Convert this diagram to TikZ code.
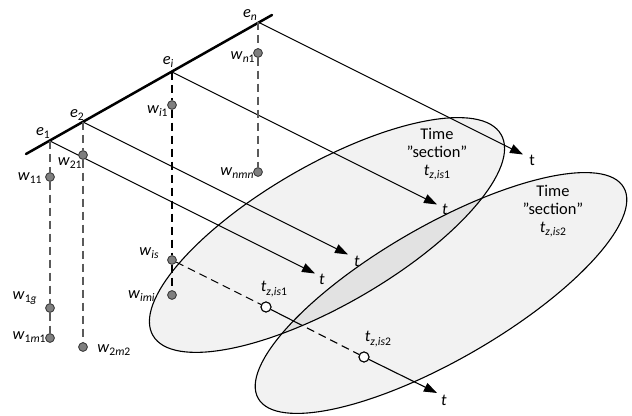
\documentclass[tikz,border=0pt]{standalone}
\usepackage{fontspec}
\setmainfont{Carlito}
\usetikzlibrary{arrows.meta,calc}
\definecolor{secgray}{HTML}{F2F2F2}
\definecolor{lensgray}{HTML}{E2E2E2}
\definecolor{dotgray}{HTML}{7F7F7F}
\definecolor{dotedge}{HTML}{404040}
\definecolor{dashgray}{HTML}{5A5A5A}
\newcommand\subt[1]{\raisebox{-0.45ex}{\fontsize{5.8}{6}\selectfont #1}}
\newcommand\vw[1]{\textit{w}\subt{#1}}
\newcommand\ve[1]{\textit{e}\subt{#1}}
\newcommand\vt[1]{\textit{t}\subt{#1}}
\begin{document}
\begin{tikzpicture}[x=0.5pt,y=-0.5pt,font=\fontsize{8.2}{9}\selectfont,
  mainline/.style={line width=1.25pt,line cap=round},
  axis/.style={line width=0.55pt,-{Triangle[length=6.5pt,width=4.6pt]}},
  thinline/.style={line width=0.55pt},
  vdash/.style={line width=0.55pt,dash pattern=on 4pt off 2.5pt},
  wdot/.style={circle,fill=dotgray,draw=dotedge,line width=0.4pt,inner sep=0pt,minimum size=4.3pt},
  tdot/.style={circle,fill=white,draw=black,line width=0.5pt,inner sep=0pt,minimum size=5pt},
  lbl/.style={inner sep=0pt},
  sect/.style={fill=secgray},
  secline/.style={draw=black,line width=0.55pt}]
\useasboundingbox (0,0) rectangle (632,416);

% time sections
\fill[sect,rotate around={30:(327,235)}] (327,235) ellipse [x radius=201,y radius=70];
\fill[sect,rotate around={30:(441,293)}] (441,293) ellipse [x radius=211,y radius=67];
\begin{scope}
  \clip[rotate around={30:(327,235)}] (327,235) ellipse [x radius=201,y radius=70];
  \fill[lensgray,rotate around={30:(441,293)}] (441,293) ellipse [x radius=211,y radius=67];
\end{scope}
\draw[secline,rotate around={30:(327,235)}] (327,235) ellipse [x radius=201,y radius=70];
\draw[secline,rotate around={30:(441,293)}] (441,293) ellipse [x radius=211,y radius=67];
\node[lbl,align=center] (sec1) at (437,154) {Time\\”section”\\\vt{\textit{z,is}1}};
\node[lbl,align=center] (sec2) at (553,211) {Time\\”section”\\\vt{\textit{z,is}2}};

% element line
\coordinate (L0) at (26,154);
\coordinate (L1) at (272,15);
\coordinate (e1) at (50,141);
\coordinate (e2) at (83,122);
\coordinate (ei) at (172,72);
\coordinate (en) at (258,22);
\draw[mainline] (L0) -- (L1);

% time axes
\coordinate (t1) at ($(e1)+(265,132.5)$);
\coordinate (t2) at ($(e2)+(265,132.5)$);
\coordinate (ti) at ($(ei)+(265,132.5)$);
\coordinate (tn) at ($(en)+(265,132.5)$);
\draw[axis] (e1) -- (t1);
\draw[axis] (e2) -- (t2);
\draw[axis] (ei) -- (ti);
\draw[axis] (en) -- (tn);

% dots (positions)
\node[wdot] (w11) at (50,177) {};
\node[wdot] (w1g) at (50,308) {};
\node[wdot] (w1m1) at (50,338) {};
\node[wdot] (w21) at (83,155) {};
\node[wdot] (w2m2) at (83,347) {};
\node[wdot] (wi1) at (172,105) {};
\node[wdot] (wis) at (172,260) {};
\node[wdot] (wimi) at (172,295) {};
\node[wdot] (wn1) at (258,53) {};
\node[wdot] (wnmn) at (258,172) {};

% vertical dashed lines
\draw[vdash,dashgray] (e1) -- (w11) -- (w1g) -- (w1m1);
\draw[vdash,dashgray] (e2) -- (w21) -- (w2m2);
\draw[vdash,black] (ei) -- (wi1) -- (wis) -- (wimi);
\draw[vdash,dashgray] (en) -- (wn1) -- (wnmn);

% w_is time line
\node[tdot] (tz1) at (266,307) {};
\node[tdot] (tz2) at (364,357) {};
\coordinate (tis) at ($(wis)+(265,133)$);
\coordinate (xin) at ($(tz1)!0.3!(tz2)$);
\draw[vdash] (wis) -- (tz1);
\draw[thinline] (tz1) -- (xin);
\draw[vdash] (xin) -- (tz2);
\draw[axis] (tz2) -- (tis);

% redraw dots on top of the lines
\foreach \p in {w11,w1g,w1m1,w21,w2m2,wi1,wis,wimi,wn1,wnmn}
  \node[wdot] at (\p) {};
\node[tdot] at (tz1) {};
\node[tdot] at (tz2) {};

% labels
\node[lbl] (le1) at (43,133) {\ve{1}};
\node[lbl] (le2) at (77,115) {\ve{2}};
\node[lbl] (lei) at (168,62) {\ve{\textit{i}}};
\node[lbl] (len) at (250,15) {\ve{\textit{n}}};

\node[lbl,anchor=east] (lw11) at (42,178) {\vw{11}};
\node[lbl,anchor=east] (lw21) at (82,163) {\vw{21}};
\node[lbl,anchor=east] (lwi1) at (168,111) {\vw{\textit{i}1}};
\node[lbl,anchor=east] (lwn1) at (255,57) {\vw{\textit{n}1}};
\node[lbl,anchor=east] (lwnmn) at (254,173) {\vw{\textit{nmn}}};
\node[lbl,anchor=east] (lwis) at (159,253) {\vw{\textit{is}}};
\node[lbl,anchor=east] (lwimi) at (155,296) {\vw{\textit{imi}}};
\node[lbl,anchor=east] (lw1g) at (37,298) {\vw{1\textit{g}}};
\node[lbl,anchor=east] (lw1m1) at (46,337) {\vw{1\textit{m}1}};
\node[lbl,anchor=west] (lw2m2) at (97,350) {\vw{2\textit{m}2}};

\node[lbl] (ltz1) at (274,289) {\vt{\textit{z,is}1}};
\node[lbl] (ltz2) at (378,339) {\vt{\textit{z,is}2}};

\node[lbl] (lt1) at (322,279) {\textit{t}};
\node[lbl] (lt2) at (357,261) {\textit{t}};
\node[lbl] (lti) at (445,209) {\textit{t}};
\node[lbl] (ltn) at (532,160) {t};
\node[lbl] (ltis) at (444,400) {\textit{t}};
\end{tikzpicture}
\end{document}
